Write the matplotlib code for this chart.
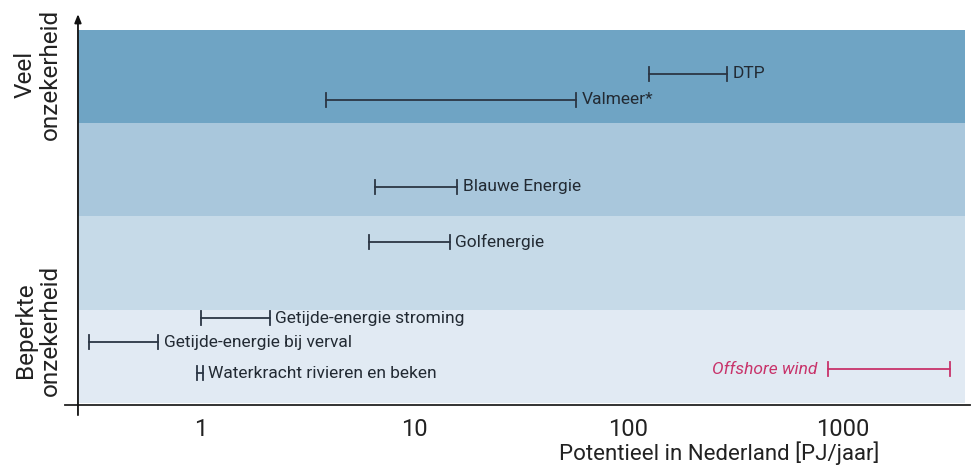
import matplotlib
matplotlib.use("Agg")
import matplotlib.pyplot as plt
import numpy as np

plt.rcParams['font.family'] = ['Roboto', 'DejaVu Sans']

# ranges [PJ/jaar]
names = ['DTP', 'Valmeer*', 'Blauwe Energie', 'Golfenergie',
         'Getijde-energie stroming', 'Getijde-energie bij verval',
         'Waterkracht rivieren en beken', 'Offshore wind']
low = [125, 3.85, 6.5, 6.1, 1.0, 0.30, 0.96, 860]
high = [290, 57, 15.8, 14.6, 2.1, 0.63, 1.02, 3200]
ypos = [3.53, 3.25, 2.32, 1.73, 0.91, 0.65, 0.32, 0.36]

band_colors = ['#e1eaf3', '#c6dae8', '#a9c7dc', '#6fa4c4']
tick_vals = [1, 10, 100, 1000]

fig = plt.figure(figsize=(9.71, 4.68), dpi=100)
ax = fig.add_axes([0.0803, 0.1389, 0.9135, 0.797])
ax.set_xscale('log')
ax.set_xlim(0.266, 3750)
ax.set_ylim(0, 4)

for i, c in enumerate(band_colors):
    ax.axhspan(i, i + 1, color=c, lw=0, zorder=0)

dark = '#2b3644'
wind = '#c8336a'
for n, lo, hi, y in zip(names, low, high, ypos):
    col = wind if n == 'Offshore wind' else dark
    ax.plot([lo, hi], [y, y], color=col, lw=1.3, zorder=3)
    ax.plot([lo, lo], [y - 0.075, y + 0.075], color=col, lw=1.3, zorder=3)
    ax.plot([hi, hi], [y - 0.075, y + 0.075], color=col, lw=1.3, zorder=3)
    if n == 'Offshore wind':
        ax.annotate(n, (lo, y), xytext=(-8, 0), textcoords='offset points',
                    ha='right', va='center', fontsize=12.5, color=wind,
                    style='italic')
    else:
        ax.annotate(n, (hi, y), xytext=(4, 0), textcoords='offset points',
                    ha='left', va='center', fontsize=12.5, color='#222a33')

for s in ax.spines.values():
    s.set_visible(False)
ax.set_yticks([])
ax.set_xticks(tick_vals)
ax.set_xticklabels([str(v) for v in tick_vals])
ax.minorticks_off()
ax.tick_params(axis='x', length=0, labelsize=17, pad=11, colors='#222222')

# axis lines extending beyond the plot area, arrow on the vertical one
ax.plot([-0.015, 1.006], [-0.005, -0.005], transform=ax.transAxes,
        color='#222222', lw=1.3, clip_on=False)
ax.annotate('', xy=(0, 1.05), xytext=(0, -0.04), xycoords='axes fraction',
            arrowprops=dict(arrowstyle='-|>,head_length=0.5,head_width=0.2',
                            color='#111111', lw=1.3))

fig.text(0.039, 0.84, 'Veel\nonzekerheid', rotation=90, ha='center',
         va='center', fontsize=17.5, color='#222222', linespacing=1.1)
fig.text(0.039, 0.295, 'Beperkte\nonzekerheid', rotation=90, ha='center',
         va='center', fontsize=17.5, color='#222222', linespacing=1.1)
fig.text(0.741, 0.032, 'Potentieel in Nederland [PJ/jaar]', ha='center',
         va='center', fontsize=16, color='#222222')

fig.savefig('out.png', dpi=100)
